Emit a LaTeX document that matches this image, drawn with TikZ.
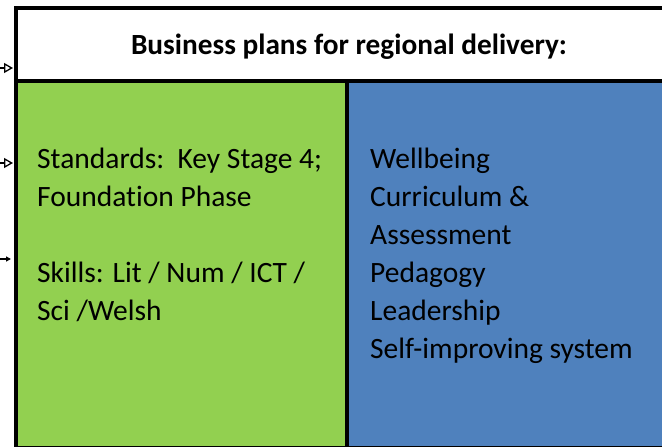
\documentclass[tikz,border=0pt]{standalone}
\usepackage{fontspec}
\setmainfont{Carlito}[RawFeature={-liga}]
\usetikzlibrary{arrows.meta}
\definecolor{grn}{RGB}{146,208,80}
\definecolor{blu}{RGB}{79,129,189}
\tikzset{
  panel/.style={draw=black, line width=3.5pt},
  bodytext/.style={anchor=base west, inner sep=0pt, font=\fontsize{29.5}{34}\selectfont},
  headtext/.style={anchor=base, inner sep=0pt, font=\fontsize{29.3}{34}\selectfont\bfseries},
  openarrow/.style={line width=1.3pt, -{Triangle[open, length=9pt, width=10pt]}},
  smallarrow/.style={line width=1.3pt, -{Triangle[length=5pt, width=5pt]}}
}
\begin{document}
\begin{tikzpicture}[x=1pt, y=-1pt]
\useasboundingbox (0,0) rectangle (662,447);
% panels
\path[fill=white] (16,8) rectangle (665,81);
\path[fill=grn] (16,81) rectangle (347,448);
\path[fill=blu] (347,81) rectangle (665,448);
\draw[panel] (16,8) rectangle (666,81);
\draw[panel] (16,81) rectangle (347,447.5);
\draw[panel] (347,81) rectangle (666,447.5);
% header text
\node[headtext] (title) at (349,54) {Business plans for regional delivery:};
% green text
\node[bodytext] (g1) at (37,168) {Standards:\ \ Key Stage 4;};
\node[bodytext] (g2) at (37,206) {Foundation Phase};
\node[bodytext] (g3) at (37,282) {Skills: Lit / Num / ICT /};
\node[bodytext] (g4) at (37,320) {Sci /Welsh};
% blue text
\node[bodytext] (b1) at (370,168) {Wellbeing};
\node[bodytext] (b2) at (370,206) {Curriculum \&};
\node[bodytext] (b3) at (370,244) {Assessment};
\node[bodytext] (b4) at (370,282) {Pedagogy};
\node[bodytext] (b5) at (370,320) {Leadership};
\node[bodytext] (b6) at (370,358) {Self-improving system};
% incoming arrows from the left
\coordinate (a1s) at (-10,68);
\coordinate (a1e) at (13,68);
\coordinate (a2s) at (-10,163);
\coordinate (a2e) at (13,163);
\coordinate (a3s) at (-10,259);
\coordinate (a3e) at (11,259);
\draw[openarrow] (a1s) -- (a1e);
\draw[openarrow] (a2s) -- (a2e);
\draw[smallarrow] (a3s) -- (a3e);
\end{tikzpicture}
\end{document}
